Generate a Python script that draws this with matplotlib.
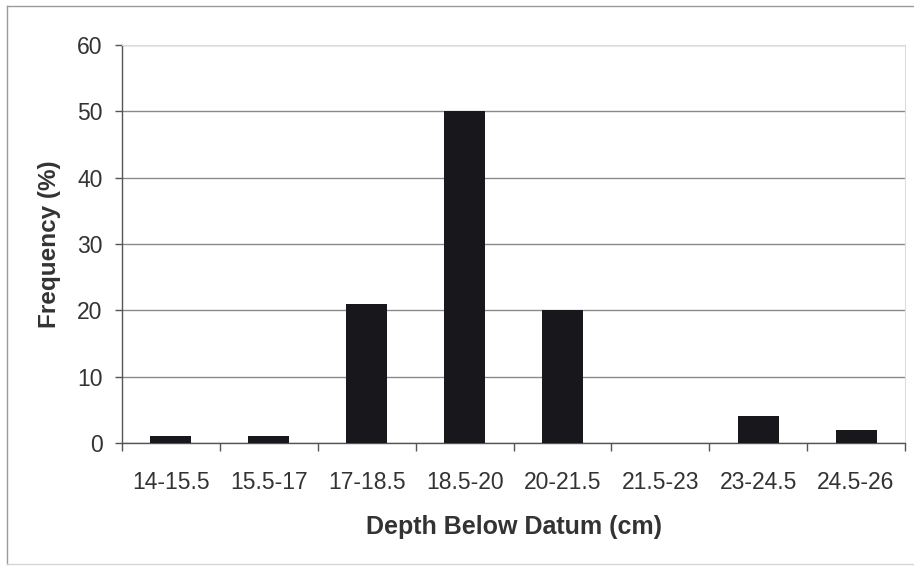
import matplotlib
matplotlib.use("Agg")
import matplotlib.pyplot as plt
from matplotlib.lines import Line2D

# data
depth_bins = ["14-15.5", "15.5-17", "17-18.5", "18.5-20",
              "20-21.5", "21.5-23", "23-24.5", "24.5-26"]
frequency = [1, 1, 21, 50, 20, 0, 4, 2]
y_ticks = [0, 10, 20, 30, 40, 50, 60]

plt.rcParams["font.family"] = ["Liberation Sans", "DejaVu Sans"]
text_col = "#333333"

fig = plt.figure(figsize=(9.14, 5.68), dpi=100)
ax = fig.add_axes([122 / 914, 1 - 443 / 568, 783 / 914, 398 / 568])

x = list(range(len(depth_bins)))
ax.bar(x, frequency, width=0.42, color="#17171c", zorder=3)

ax.set_xlim(-0.5, len(depth_bins) - 0.5)
ax.set_ylim(0, 60)
ax.set_yticks(y_ticks)
ax.yaxis.grid(True, color="#8a8a8a", linewidth=1.0, zorder=0)

# category labels at centres, tick marks at boundaries
ax.set_xticks(x)
ax.set_xticklabels(depth_bins, fontsize=16.5, color=text_col)
ax.tick_params(axis="x", which="major", length=0, pad=20)
ax.set_xticks([i - 0.5 for i in range(len(depth_bins) + 1)], minor=True)
ax.tick_params(axis="x", which="minor", length=6, width=1, color="#555555",
               direction="out")
ax.tick_params(axis="y", length=5, width=1, color="#555555", direction="out",
               pad=9, labelsize=16.5, labelcolor=text_col)

for side in ["left", "bottom"]:
    ax.spines[side].set_color("#555555")
    ax.spines[side].set_linewidth(1.0)
ax.spines["top"].set_color("#d8dde0")
ax.spines["right"].set_color("#d0e0ea")

ax.set_xlabel("Depth Below Datum (cm)", fontsize=18, fontweight="bold",
              color=text_col)
ax.xaxis.set_label_coords(0.5, -0.211)
ax.xaxis.label.set_va("center")
ax.set_ylabel("Frequency (%)", fontsize=17.5, fontweight="bold", color=text_col)
ax.yaxis.set_label_coords(-0.092, 0.5)
ax.yaxis.label.set_va("center")

# thin frame around the chart area
frame_col = "#9a9a9a"
fig.add_artist(Line2D([7 / 914, 7 / 914], [1 - 6 / 568, 1 - 564 / 568],
                      transform=fig.transFigure, color=frame_col, lw=1))
fig.add_artist(Line2D([7 / 914, 1.0], [1 - 6 / 568, 1 - 6 / 568],
                      transform=fig.transFigure, color=frame_col, lw=1))
fig.add_artist(Line2D([7 / 914, 1.0], [1 - 564 / 568, 1 - 564 / 568],
                      transform=fig.transFigure, color="#d6d6d6", lw=1))

fig.savefig("out.png", dpi=100)
